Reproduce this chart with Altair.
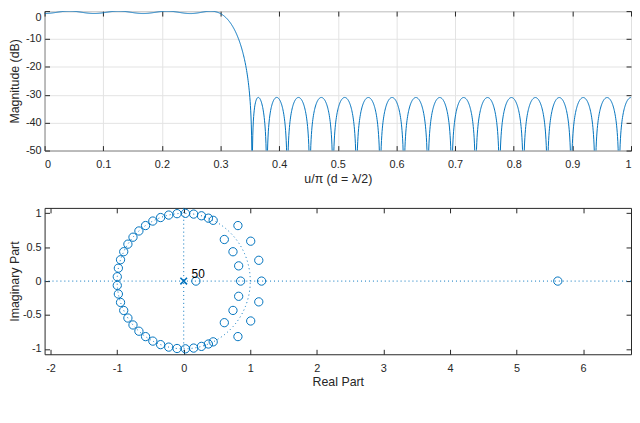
import numpy as np
import pandas as pd
import altair as alt

BLUE = "#0072BD"
INK = "#262626"
GRID = "#e3e3e3"
FONT = "Liberation Sans"

# ---- tick values ----
u_ticks = [0, 0.1, 0.2, 0.3, 0.4, 0.5, 0.6, 0.7, 0.8, 0.9, 1]
db_ticks = [-50, -40, -30, -20, -10, 0]
re_ticks = [-2, -1, 0, 1, 2, 3, 4, 5, 6]
im_ticks = [-1, -0.5, 0, 0.5, 1]

# ---- zeros of the pole-zero plot (upper half plane; conjugates mirrored) ----
# zeros on the unit circle, angle as a fraction of pi (the stopband nulls)
uc_zero_u = [0.35394, 0.37900, 0.41402, 0.45228, 0.49180, 0.53191, 0.57231, 0.61287,
             0.65353, 0.69424, 0.73498, 0.77574, 0.81651, 0.85729, 0.89806, 0.93884,
             0.97961]
# zeros off the unit circle
off_re = [0.85516, 0.18339, 0.82564, 0.74022, 0.61031, 1.16937, 5.62, 1.12776,
          1.00655, 0.81459]
off_im = [0.00000, 0.00000, 0.22455, 0.43299, 0.61379, 0.00000, 0.00000, 0.30672,
          0.58878, 0.81924]
# poles: all at the origin
pole_count = 50

# ---- assemble the full zero list ----
zr, zi = [], []
for u in uc_zero_u:
    a = np.pi * u
    zr += [np.cos(a), np.cos(a)]
    zi += [np.sin(a), -np.sin(a)]
for r, i in zip(off_re, off_im):
    if i == 0:
        zr.append(r); zi.append(0.0)
    else:
        zr += [r, r]; zi += [i, -i]
zeros = np.array(zr) + 1j * np.array(zi)
zeros_df = pd.DataFrame({"re": zr, "im": zi})

# ---- magnitude response implied by those zeros (normalised to 0 dB) ----
u_grid = np.linspace(0, 1, 2001)
zz = np.exp(1j * np.pi * u_grid)
H = np.prod(zz[:, None] - zeros[None, :], axis=1)
db = 20 * np.log10(np.abs(H) + 1e-300)
db = db - db[u_grid <= 0.3].max()
mag_df = pd.DataFrame({"u": u_grid, "db": db})

# unit circle (reference geometry drawn by zplane)
t = np.linspace(0, 2 * np.pi, 361)
circ_df = pd.DataFrame({"re": np.cos(t), "im": np.sin(t), "k": np.arange(len(t))})
pole_df = pd.DataFrame({"re": [0.0], "im": [0.0], "label": [str(pole_count)]})

LBL = dict(labelFont=FONT, labelFontSize=11, labelColor=INK,
           titleFont=FONT, titleFontSize=12.5, titleColor=INK, titleFontWeight="normal",
           tickColor=INK, tickSize=5, offset=-5, domain=False)
NOLBL = dict(labels=False, title=None, tickColor=INK, tickSize=5, offset=-5,
             domain=False, grid=False)

# ================= top panel =================
xs1 = alt.Scale(domain=[0, 1], nice=False, zero=False)
ys1 = alt.Scale(domain=[-50, 0], nice=False, zero=False)

line = alt.Chart(mag_df).mark_line(color=BLUE, strokeWidth=1, clip=True).encode(
    x=alt.X("u:Q", scale=xs1, axis=alt.Axis(
        orient="bottom", values=u_ticks, labelExpr="'' + datum.value",
        title="u/π (d = λ/2)", grid=True, gridColor=GRID,
        labelPadding=8, titlePadding=3, **LBL)),
    y=alt.Y("db:Q", scale=ys1, axis=alt.Axis(
        orient="left", values=db_ticks, labelExpr="'' + datum.value",
        title="Magnitude (dB)", grid=True, gridColor=GRID,
        labelBaseline={"condition": {"test": "datum.value == 0", "value": "top"}, "value": "middle"},
        labelPadding=3.5, titlePadding=4, **LBL)),
)
ticks1 = alt.Chart(pd.DataFrame({"u": [0.5], "db": [-25]})).mark_point(opacity=0).encode(
    x=alt.X("u:Q", scale=xs1, axis=alt.Axis(orient="top", values=u_ticks, **NOLBL)),
    y=alt.Y("db:Q", scale=ys1, axis=alt.Axis(orient="right", values=db_ticks, **NOLBL)),
)
top = alt.layer(line, ticks1).resolve_axis(x="independent", y="independent").properties(
    width=593, height=141)

# ================= bottom panel =================
xs2 = alt.Scale(domain=[-2.09, 6.72], nice=False, zero=False)
ys2 = alt.Scale(domain=[-1.08, 1.08], nice=False, zero=False)

hline = alt.Chart(pole_df).mark_rule(color=BLUE, strokeWidth=1, strokeDash=[1, 3]).encode(
    y=alt.Y("im:Q", scale=ys2, axis=None))
vline = alt.Chart(pole_df).mark_rule(color=BLUE, strokeWidth=1, strokeDash=[1, 3]).encode(
    x=alt.X("re:Q", scale=xs2, axis=None))
ucirc = alt.Chart(circ_df).mark_line(color=BLUE, strokeWidth=1, strokeDash=[1, 3]).encode(
    x=alt.X("re:Q", scale=xs2, axis=None),
    y=alt.Y("im:Q", scale=ys2, axis=None),
    order="k:Q")
zpts = alt.Chart(zeros_df).mark_point(shape="circle", filled=False, size=70,
                                      strokeWidth=1, color=BLUE, opacity=1).encode(
    x=alt.X("re:Q", scale=xs2, axis=alt.Axis(
        orient="bottom", values=re_ticks, labelExpr="'' + datum.value",
        title="Real Part", grid=False, labelPadding=8, titlePadding=3, **LBL)),
    y=alt.Y("im:Q", scale=ys2, axis=alt.Axis(
        orient="left", values=im_ticks, labelExpr="'' + datum.value",
        title="Imaginary Part", grid=False, labelPadding=3.5, titlePadding=1, **LBL)),
)
ppt = alt.Chart(pole_df).mark_point(shape="M-1,-1L1,1M-1,1L1,-1", filled=False, size=45,
                                    strokeWidth=1.6, color=BLUE, opacity=1).encode(
    x=alt.X("re:Q", scale=xs2, axis=None),
    y=alt.Y("im:Q", scale=ys2, axis=None))
ptxt = alt.Chart(pole_df).mark_text(align="left", baseline="middle", dx=8, dy=-7,
                                    font=FONT, fontSize=12, color="#000000").encode(
    x=alt.X("re:Q", scale=xs2, axis=None),
    y=alt.Y("im:Q", scale=ys2, axis=None),
    text="label:N")
ticks2 = alt.Chart(pd.DataFrame({"re": [0.0], "im": [0.0]})).mark_point(opacity=0).encode(
    x=alt.X("re:Q", scale=xs2, axis=alt.Axis(orient="top", values=re_ticks, **NOLBL)),
    y=alt.Y("im:Q", scale=ys2, axis=alt.Axis(orient="right", values=im_ticks, **NOLBL)),
)
bottom = alt.layer(zpts, ticks2, hline, vline, ucirc, ppt, ptxt).resolve_axis(
    x="independent", y="independent").properties(width=593, height=148)

chart = alt.vconcat(top, bottom, spacing=58, bounds="flush").properties(
    padding={"left": 0, "top": 0, "right": 0, "bottom": 0}
).configure(font=FONT).configure_view(stroke=INK, strokeWidth=1)

chart.save("out.html", embed_options={"renderer": "svg", "actions": False})
